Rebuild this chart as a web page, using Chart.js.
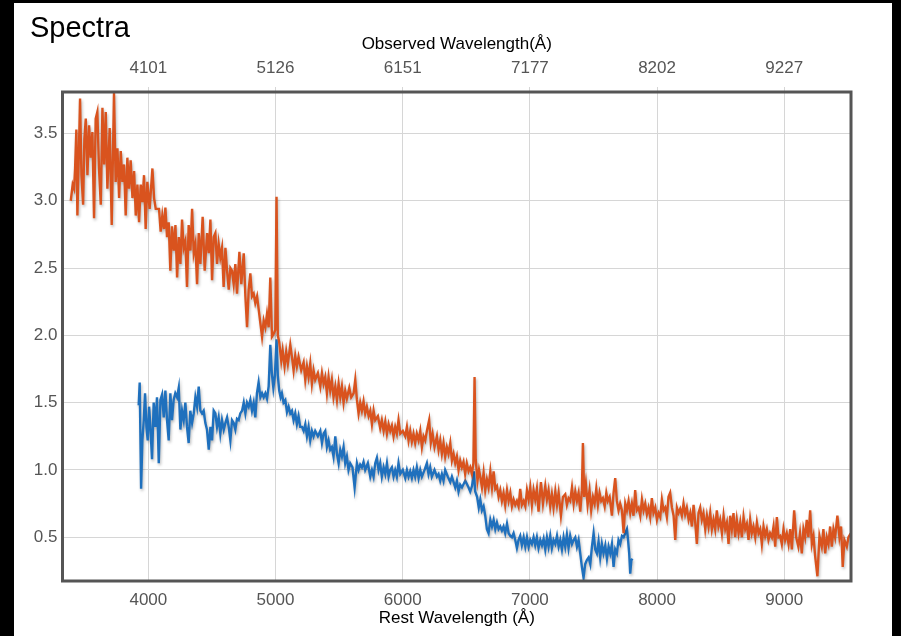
<!DOCTYPE html>
<html>
<head>
<meta charset="utf-8">
<title>Spectra</title>
<script src="https://cdn.jsdelivr.net/npm/chart.js@4.4.1/dist/chart.umd.min.js"></script>
<style>
  body { margin: 0; background: #000; }
  #panel { position: absolute; left: 14px; top: 3px; width: 878px; height: 633px; background: #fff; }
  #title { position: absolute; left: 16px; top: 10px; font: 29px "Liberation Sans", Arial, sans-serif; line-height: 1; color: #000; }
  canvas { position: absolute; left: 0; top: 0; }
</style>
</head>
<body>
<div id="panel">
  <canvas id="spectra" width="878" height="633"></canvas>
  <div id="title">Spectra</div>
</div>
<script>
// rest-frame wavelength (Å) and flux, red spectrum
const redWave = [
  3390, 3405, 3416, 3424, 3434, 3442, 3455, 3463, 3474, 3487,
  3497, 3508, 3521, 3534, 3547, 3560, 3573, 3586, 3599, 3612,
  3626, 3639, 3652, 3665, 3678, 3696, 3712, 3730, 3743, 3757,
  3770, 3783, 3796, 3809, 3822, 3835, 3848, 3861, 3875, 3888,
  3901, 3914, 3927, 3940, 3953, 3966, 3979, 3992, 4010, 4032,
  4045, 4058, 4084, 4097, 4110, 4123, 4134, 4147, 4160, 4173,
  4186, 4200, 4213, 4226, 4239, 4252, 4265, 4278, 4291, 4304,
  4317, 4331, 4344, 4357, 4370, 4383, 4396, 4409, 4427, 4443,
  4462, 4475, 4488, 4501, 4514, 4527, 4540, 4553, 4566, 4579,
  4592, 4606, 4619, 4632, 4645, 4658, 4671, 4684, 4697, 4716,
  4731, 4750, 4763, 4776, 4789, 4802, 4815, 4828, 4841, 4855,
  4868, 4881, 4894, 4907, 4920, 4933, 4946, 4959, 4972, 4985,
  4998, 5008, 5018, 5029, 5045, 5056, 5071, 5084, 5097, 5116,
  5129, 5142, 5155, 5168, 5181, 5202, 5221, 5234, 5247, 5260,
  5273, 5286, 5299, 5312, 5333, 5352, 5365, 5378, 5391, 5404,
  5417, 5430, 5443, 5456, 5470, 5483, 5496, 5509, 5522, 5535,
  5548, 5561, 5580, 5595, 5614, 5627, 5640, 5653, 5666, 5679,
  5692, 5705, 5718, 5732, 5745, 5758, 5771, 5784, 5805, 5823,
  5836, 5850, 5863, 5876, 5889, 5902, 5915, 5928, 5941, 5954,
  5967, 5981, 6001, 6020, 6033, 6046, 6059, 6072, 6085, 6098,
  6111, 6125, 6138, 6151, 6164, 6177, 6190, 6208, 6221, 6235,
  6250, 6269, 6282, 6295, 6308, 6321, 6334, 6347, 6360, 6374,
  6387, 6400, 6413, 6426, 6439, 6452, 6465, 6478, 6491, 6504,
  6518, 6531, 6544, 6556, 6565, 6574, 6588, 6600, 6610, 6623,
  6636, 6649, 6662, 6675, 6689, 6702, 6715, 6728, 6741, 6754,
  6767, 6780, 6793, 6806, 6820, 6833, 6846, 6859, 6872, 6885,
  6898, 6911, 6924, 6937, 6951, 6964, 6977, 6990, 7003, 7016,
  7029, 7042, 7055, 7068, 7087, 7103, 7121, 7134, 7147, 7160,
  7173, 7186, 7200, 7213, 7226, 7244, 7260, 7278, 7291, 7304,
  7317, 7331, 7344, 7357, 7370, 7383, 7396, 7409, 7417, 7427,
  7440, 7454, 7469, 7482, 7496, 7509, 7522, 7535, 7548, 7561,
  7574, 7588, 7601, 7613, 7627, 7645, 7658, 7671, 7684, 7697,
  7710, 7724, 7737, 7750, 7763, 7776, 7789, 7802, 7815, 7828,
  7841, 7855, 7868, 7881, 7894, 7907, 7920, 7933, 7946, 7959,
  7972, 7986, 7999, 8012, 8025, 8038, 8051, 8064, 8077, 8090,
  8103, 8117, 8130, 8143, 8156, 8169, 8182, 8195, 8208, 8221,
  8234, 8248, 8261, 8274, 8287, 8300, 8313, 8326, 8339, 8352,
  8365, 8379, 8392, 8405, 8418, 8431, 8444, 8457, 8470, 8483,
  8496, 8510, 8523, 8536, 8549, 8562, 8575, 8588, 8601, 8614,
  8627, 8641, 8654, 8667, 8680, 8693, 8706, 8719, 8732, 8745,
  8758, 8772, 8785, 8798, 8811, 8824, 8837, 8850, 8863, 8876,
  8889, 8903, 8916, 8929, 8942, 8955, 8968, 8981, 8994, 9007,
  9020, 9034, 9047, 9060, 9078, 9094, 9111, 9124, 9138, 9151,
  9164, 9177, 9190, 9204, 9217, 9230, 9243, 9261, 9277, 9295,
  9308, 9322, 9335, 9348, 9361, 9374, 9387, 9400, 9418, 9434,
  9447, 9460, 9473, 9492, 9505, 9523
]
const redFlux = [
  3.0, 3.12, 3.09, 3.24, 3.53, 2.89, 3.41, 3.76, 3.19, 2.97,
  3.46, 3.61, 3.19, 3.56, 3.32, 3.51, 2.87, 3.61, 3.66, 3.24,
  2.97, 3.69, 3.27, 3.66, 3.09, 3.54, 2.82, 3.8, 3.14, 3.39,
  3.02, 3.37, 3.14, 3.27, 2.89, 3.32, 3.09, 3.3, 3.02, 3.22,
  2.89, 3.12, 2.84, 3.12, 2.99, 3.19, 2.79, 3.14, 2.94, 3.24,
  3.02, 2.94, 2.94, 2.77, 2.89, 2.79, 2.95, 2.73, 2.84, 2.48,
  2.81, 2.63, 2.82, 2.43, 2.73, 2.53, 2.86, 2.65, 2.7, 2.36,
  2.82, 2.63, 2.94, 2.61, 2.68, 2.38, 2.76, 2.53, 2.88, 2.48,
  2.76, 2.61, 2.86, 2.41, 2.73, 2.76, 2.53, 2.68, 2.58, 2.65,
  2.36, 2.65, 2.48, 2.34, 2.5, 2.48, 2.38, 2.53, 2.31, 2.62,
  2.38, 2.61, 2.29, 2.06, 2.34, 2.46, 2.29, 2.31, 2.24, 2.29,
  2.19, 2.09, 1.99, 2.11, 2.06, 2.16, 2.06, 2.43, 1.99, 2.01,
  2.04, 3.03, 2.0, 1.95, 1.81, 1.89, 1.77, 1.88, 1.79, 1.93,
  1.84, 1.74, 1.85, 1.77, 1.84, 1.74, 1.8, 1.67, 1.77, 1.69,
  1.79, 1.64, 1.74, 1.67, 1.72, 1.62, 1.72, 1.64, 1.69, 1.57,
  1.69, 1.59, 1.67, 1.54, 1.62, 1.52, 1.64, 1.54, 1.62, 1.5,
  1.59, 1.53, 1.61, 1.54, 1.57, 1.67, 1.52, 1.42, 1.5, 1.44,
  1.51, 1.42, 1.47, 1.4, 1.44, 1.34, 1.44, 1.37, 1.4, 1.31,
  1.37, 1.29, 1.36, 1.27, 1.34, 1.29, 1.33, 1.25, 1.32, 1.27,
  1.37, 1.27, 1.29, 1.25, 1.32, 1.22, 1.29, 1.21, 1.27, 1.2,
  1.27, 1.22, 1.29, 1.17, 1.25, 1.22, 1.29, 1.37, 1.2, 1.27,
  1.17, 1.25, 1.15, 1.22, 1.12, 1.2, 1.1, 1.17, 1.12, 1.2,
  1.07, 1.12, 1.05, 1.1, 1.0, 1.07, 1.02, 1.06, 0.97, 1.05,
  0.99, 1.02, 0.97, 1.05, 1.69, 1.08, 0.92, 1.0, 0.95, 0.87,
  0.98, 0.85, 0.93, 0.87, 0.99, 0.87, 0.99, 0.86, 0.88, 0.8,
  0.85, 0.77, 0.83, 0.74, 0.85, 0.77, 0.83, 0.73, 0.78, 0.74,
  0.77, 0.73, 0.86, 0.74, 0.77, 0.73, 0.85, 0.78, 0.87, 0.74,
  0.85, 0.78, 0.86, 0.69, 0.91, 0.75, 0.88, 0.78, 0.85, 0.73,
  0.82, 0.72, 0.84, 0.74, 0.83, 0.66, 0.8, 0.82, 0.74, 0.79,
  0.77, 0.87, 0.75, 0.84, 0.77, 0.83, 0.69, 0.85, 1.2, 0.8,
  0.9, 0.74, 0.85, 0.7, 0.8, 0.75, 0.86, 0.74, 0.83, 0.77,
  0.79, 0.73, 0.83, 0.77, 0.8, 0.66, 0.83, 0.94, 0.77, 0.7,
  0.75, 0.7, 0.53, 0.75, 0.7, 0.77, 0.68, 0.75, 0.66, 0.85,
  0.7, 0.72, 0.66, 0.78, 0.7, 0.75, 0.67, 0.72, 0.65, 0.79,
  0.68, 0.72, 0.63, 0.68, 0.65, 0.78, 0.7, 0.72, 0.65, 0.8,
  0.83, 0.72, 0.66, 0.48, 0.72, 0.68, 0.71, 0.66, 0.75, 0.67,
  0.72, 0.63, 0.68, 0.58, 0.74, 0.61, 0.45, 0.68, 0.72, 0.63,
  0.68, 0.56, 0.66, 0.58, 0.68, 0.56, 0.63, 0.56, 0.7, 0.58,
  0.63, 0.53, 0.66, 0.56, 0.61, 0.45, 0.66, 0.56, 0.68, 0.5,
  0.63, 0.53, 0.61, 0.5, 0.65, 0.56, 0.6, 0.48, 0.63, 0.53,
  0.58, 0.5, 0.61, 0.53, 0.56, 0.45, 0.58, 0.51, 0.56, 0.48,
  0.53, 0.5, 0.58, 0.43, 0.65, 0.5, 0.51, 0.45, 0.56, 0.48,
  0.53, 0.45, 0.56, 0.41, 0.7, 0.5, 0.43, 0.53, 0.38, 0.56,
  0.5, 0.63, 0.5, 0.7, 0.45, 0.51, 0.36, 0.21, 0.51, 0.43,
  0.56, 0.38, 0.5, 0.45, 0.58, 0.43, 0.56, 0.5, 0.66, 0.5,
  0.58, 0.28, 0.48, 0.43, 0.5, 0.53
]

// blue spectrum
const blueWave = [
  3924, 3932, 3943, 3953, 3964, 3974, 3985, 3995, 4006, 4016,
  4029, 4042, 4055, 4068, 4082, 4095, 4108, 4121, 4134, 4147,
  4160, 4173, 4186, 4199, 4212, 4226, 4239, 4252, 4265, 4278,
  4291, 4304, 4317, 4330, 4344, 4357, 4370, 4383, 4396, 4409,
  4422, 4435, 4448, 4461, 4475, 4488, 4501, 4514, 4527, 4540,
  4553, 4566, 4579, 4593, 4606, 4619, 4632, 4645, 4658, 4671,
  4684, 4697, 4710, 4723, 4737, 4750, 4763, 4776, 4789, 4802,
  4815, 4828, 4841, 4854, 4867, 4881, 4894, 4907, 4920, 4933,
  4946, 4959, 4971, 4983, 4995, 5008, 5018, 5029, 5040, 5050,
  5063, 5077, 5090, 5103, 5116, 5129, 5142, 5155, 5168, 5181,
  5194, 5208, 5221, 5234, 5247, 5260, 5273, 5286, 5299, 5312,
  5333, 5352, 5365, 5378, 5391, 5404, 5417, 5430, 5443, 5456,
  5470, 5483, 5496, 5509, 5522, 5535, 5548, 5561, 5574, 5587,
  5605, 5622, 5640, 5653, 5666, 5679, 5692, 5705, 5726, 5745,
  5758, 5771, 5784, 5797, 5810, 5823, 5836, 5850, 5863, 5876,
  5889, 5902, 5915, 5928, 5941, 5954, 5967, 5981, 6001, 6020,
  6033, 6046, 6059, 6072, 6085, 6098, 6111, 6125, 6138, 6151,
  6172, 6190, 6203, 6216, 6229, 6250, 6269, 6282, 6295, 6308,
  6321, 6334, 6355, 6374, 6387, 6413, 6426, 6439, 6452, 6466,
  6492, 6518, 6531, 6545, 6560, 6570, 6585, 6598, 6610, 6623,
  6636, 6649, 6662, 6675, 6689, 6702, 6715, 6728, 6741, 6754,
  6767, 6780, 6793, 6806, 6820, 6833, 6846, 6859, 6872, 6885,
  6898, 6911, 6924, 6937, 6951, 6964, 6977, 6990, 7003, 7016,
  7029, 7042, 7055, 7068, 7082, 7095, 7108, 7121, 7134, 7147,
  7160, 7173, 7186, 7200, 7213, 7226, 7239, 7252, 7265, 7278,
  7291, 7304, 7317, 7331, 7344, 7357, 7370, 7383, 7396, 7409,
  7422, 7435, 7448, 7462, 7475, 7488, 7501, 7514, 7527, 7540,
  7553, 7566, 7579, 7593, 7606, 7619, 7632, 7645, 7658, 7671,
  7684, 7697, 7710, 7724, 7737, 7750, 7763, 7770, 7781, 7789,
  7798, 7807
]
const blueFlux = [
  1.48, 1.65, 0.86, 1.22, 1.37, 1.57, 1.32, 1.22, 1.47, 1.32,
  1.08, 1.5, 1.32, 1.54, 1.05, 1.52, 1.56, 1.39, 1.59, 1.37,
  1.22, 1.57, 1.37, 1.52, 1.57, 1.54, 1.61, 1.3, 1.44, 1.37,
  1.5, 1.32, 1.2, 1.44, 1.35, 1.42, 1.54, 1.47, 1.62, 1.44,
  1.42, 1.44, 1.35, 1.3, 1.15, 1.32, 1.22, 1.44, 1.42, 1.32,
  1.39, 1.27, 1.37, 1.3, 1.35, 1.39, 1.32, 1.22, 1.37, 1.35,
  1.3, 1.38, 1.37, 1.42, 1.44, 1.5, 1.42, 1.5, 1.47, 1.52,
  1.44, 1.5, 1.39, 1.57, 1.65, 1.54, 1.57, 1.54, 1.57, 1.53,
  1.62, 1.93, 1.72, 1.61, 1.7, 1.97, 1.7, 1.59, 1.54, 1.57,
  1.5, 1.52, 1.43, 1.47, 1.42, 1.44, 1.37, 1.42, 1.34, 1.4,
  1.32, 1.32, 1.29, 1.34, 1.25, 1.32, 1.22, 1.29, 1.25, 1.29,
  1.25, 1.29, 1.2, 1.27, 1.29, 1.17, 1.22, 1.15, 1.17, 1.1,
  1.25, 1.12, 1.05, 1.15, 1.1, 1.17, 1.05, 1.1, 1.0, 1.05,
  1.02, 0.87, 1.05, 1.0, 1.04, 1.02, 1.06, 1.0, 1.05, 0.95,
  1.0, 0.95, 1.05, 1.09, 1.0, 1.05, 0.95, 1.02, 0.97, 1.05,
  0.95, 1.0, 1.02, 0.95, 1.0, 0.95, 1.05, 0.97, 1.0, 0.94,
  1.0, 0.95, 0.99, 0.94, 1.0, 0.95, 1.02, 0.94, 1.0, 0.95,
  1.0, 1.05, 0.97, 1.02, 0.95, 1.0, 0.95, 0.97, 0.92, 0.97,
  0.92, 1.0, 0.95, 0.91, 0.95, 0.87, 0.92, 0.84, 0.89, 0.87,
  0.92, 0.87, 0.84, 0.88, 0.99, 0.84, 0.8, 0.72, 0.78, 0.7,
  0.73, 0.66, 0.56, 0.53, 0.63, 0.58, 0.63, 0.56, 0.61, 0.56,
  0.58, 0.55, 0.58, 0.53, 0.6, 0.53, 0.51, 0.5, 0.53, 0.48,
  0.42, 0.48, 0.51, 0.44, 0.5, 0.43, 0.5, 0.43, 0.48, 0.45,
  0.5, 0.44, 0.5, 0.42, 0.48, 0.44, 0.49, 0.41, 0.5, 0.43,
  0.51, 0.42, 0.48, 0.45, 0.51, 0.43, 0.48, 0.41, 0.5, 0.43,
  0.52, 0.42, 0.51, 0.45, 0.48, 0.5, 0.43, 0.48, 0.38, 0.28,
  0.2, 0.3, 0.33, 0.35, 0.3, 0.43, 0.53, 0.41, 0.38, 0.47,
  0.35, 0.45, 0.38, 0.44, 0.34, 0.43, 0.38, 0.45, 0.28, 0.41,
  0.38, 0.48, 0.45, 0.51, 0.5, 0.53, 0.56, 0.5, 0.38, 0.23,
  0.33, 0.34
]

// tick positions; the top axis labels the same ticks in the observed frame
const restTicks = [4000, 5000, 6000, 7000, 8000, 9000]
const observedTickLabels = ["4101", "5126", "6151", "7177", "8202", "9227"]
const fluxTicks = [0.5, 1.0, 1.5, 2.0, 2.5, 3.0, 3.5]

const xMin = 3325
const xMax = 9525
const yMin = 0.175
const yMax = 3.808

const FONT = "'Liberation Sans', Arial, Helvetica, sans-serif"
const GRID = "#d6d6d6"
const TICK_COLOR = "#555555"

const toPoints = (xs, ys) => xs.map((x, i) => ({ x, y: ys[i] }))
const fixedTicks = (values) => (scale) => {
  scale.ticks = values.map((value) => ({ value }))
}

// soft drop shadow under each spectrum line
const lineShadow = {
  id: "lineShadow",
  beforeDatasetDraw(chart) {
    const ctx = chart.ctx
    ctx.save()
    ctx.shadowColor = "rgba(0, 0, 0, 0.28)"
    ctx.shadowBlur = 3
    ctx.shadowOffsetX = 1
    ctx.shadowOffsetY = 2
  },
  afterDatasetDraw(chart) {
    chart.ctx.restore()
  },
}

// thick dark frame around the plot area
const plotFrame = {
  id: "plotFrame",
  afterDatasetsDraw(chart) {
    const { ctx, chartArea: a } = chart
    ctx.save()
    ctx.strokeStyle = "#555555"
    ctx.lineWidth = 3
    ctx.strokeRect(a.left, a.top, a.right - a.left, a.bottom - a.top)
    ctx.restore()
  },
}

const ctx = document.getElementById("spectra").getContext("2d")

new Chart(ctx, {
  type: "line",
  data: {
    datasets: [
      {
        label: "red",
        data: toPoints(redWave, redFlux),
        borderColor: "#d9531e",
        borderWidth: 2.4,
        pointRadius: 0,
        tension: 0,
      },
      {
        label: "blue",
        data: toPoints(blueWave, blueFlux),
        borderColor: "#1f70bd",
        borderWidth: 2.4,
        pointRadius: 0,
        tension: 0,
      },
    ],
  },
  options: {
    responsive: false,
    animation: false,
    parsing: false,
    layout: { padding: { left: 0, right: 41, top: 0, bottom: 0 } },
    plugins: {
      legend: { display: false },
      tooltip: { enabled: false },
    },
    scales: {
      x: {
        type: "linear",
        position: "bottom",
        min: xMin,
        max: xMax,
        afterBuildTicks: fixedTicks(restTicks),
        afterFit: (scale) => { scale.height = 55 },
        border: { display: false },
        grid: { color: GRID, lineWidth: 1, drawTicks: false },
        ticks: {
          maxRotation: 0,
          autoSkip: false,
          padding: 9,
          color: TICK_COLOR,
          font: { family: FONT, size: 17 },
          callback: (v) => String(v),
        },
        title: {
          display: true,
          text: "Rest Wavelength (Å)",
          color: "#000",
          font: { family: FONT, size: 17 },
          padding: { top: 0, bottom: 7 },
        },
      },
      xTop: {
        type: "linear",
        position: "top",
        min: xMin,
        max: xMax,
        afterBuildTicks: fixedTicks(restTicks),
        afterFit: (scale) => { scale.height = 89 },
        border: { display: false },
        grid: { color: GRID, lineWidth: 1, drawOnChartArea: false, drawTicks: true, tickLength: 5 },
        ticks: {
          maxRotation: 0,
          autoSkip: false,
          padding: 8,
          color: TICK_COLOR,
          font: { family: FONT, size: 17 },
          callback: (v, i) => observedTickLabels[i],
        },
        title: {
          display: true,
          text: "Observed Wavelength(Å)",
          color: "#000",
          font: { family: FONT, size: 17 },
          padding: { top: 31, bottom: 0 },
        },
      },
      y: {
        type: "linear",
        min: yMin,
        max: yMax,
        afterBuildTicks: fixedTicks(fluxTicks),
        afterFit: (scale) => { scale.width = 48.5 },
        border: { display: false },
        grid: { color: GRID, lineWidth: 1, drawTicks: false },
        ticks: {
          autoSkip: false,
          padding: 5,
          color: TICK_COLOR,
          font: { family: FONT, size: 17 },
          callback: (v) => v.toFixed(1),
        },
      },
    },
  },
  plugins: [lineShadow, plotFrame],
})
</script>
</body>
</html>
